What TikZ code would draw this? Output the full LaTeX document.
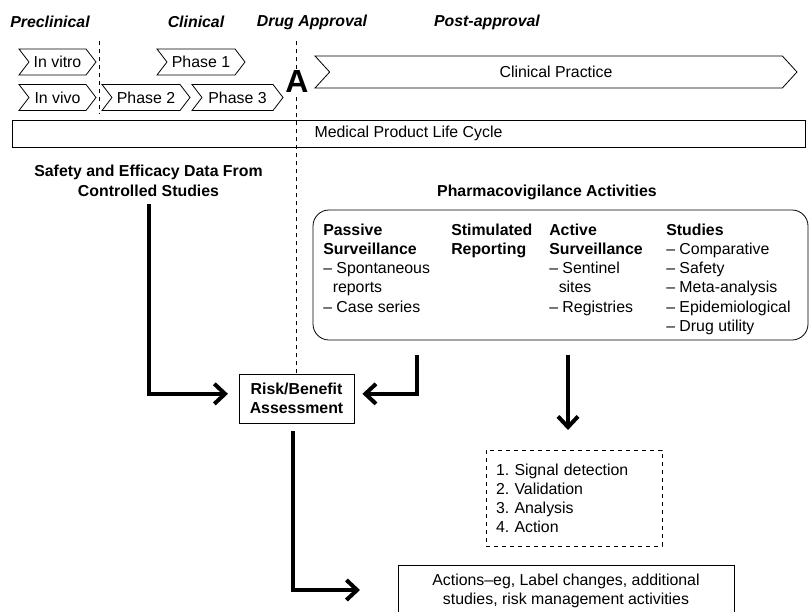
\documentclass[tikz,border=0pt]{standalone}
\usepackage{fontspec}
\setmainfont{Liberation Sans}
\usetikzlibrary{shapes.symbols,arrows.meta}
\frenchspacing

\begin{document}
\begin{tikzpicture}
[x=0.75pt, y=-0.75pt,
 every node/.style={font=\fontsize{11.9}{14.3}\selectfont, inner sep=0pt},
 head/.style={font=\fontsize{11.9}{14.3}\selectfont\bfseries\itshape},
 bold/.style={font=\fontsize{11.9}{14.3}\selectfont\bfseries},
 chev/.style={draw, line width=0.6pt, signal, signal from=west, signal to=east, signal pointer angle=105, minimum height=19.5pt},
 box/.style={draw, line width=0.6pt, align=center},
 col/.style={anchor=north west, align=left},
 flow/.style={line width=3pt, -{Straight Barb[length=8pt,width=15pt]}}]
\useasboundingbox (0,0) rectangle (810,611);

% Define the stage headers
\node[head] (pre) at (50,22) {Preclinical};
\node[head] (clin) at (196,22) {Clinical};
\node[head] (appr) at (312,22) {Drug Approval};
\node[head] (post) at (487,22) {Post-approval};

% Define the chevrons
\node[chev, minimum width=57.75pt] (invitro) at (57.5,62) {In vitro};
\node[chev, minimum width=57.75pt] (invivo) at (57.5,97.5) {In vivo};
\node[chev, minimum width=66pt] (ph1) at (201,62) {Phase 1};
\node[chev, minimum width=66pt] (ph2) at (146,97.5) {Phase 2};
\node[chev, minimum width=68.25pt] (ph3) at (237.5,97.5) {Phase 3};
\node[chev, signal pointer angle=95, minimum width=361.5pt, minimum height=24pt] (practice) at (556,72) {Clinical Practice};

\node[box, minimum width=594.75pt, minimum height=20.25pt] (cycle) at (408.5,133.5) {Medical Product Life Cycle};

% Define the data sources
\node[font=\fontsize{11.9}{15}\selectfont\bfseries, align=center] (safety) at (148.5,181) {Safety and Efficacy Data From\\Controlled Studies};
\node[bold] (pvtitle) at (547,192) {Pharmacovigilance Activities};
\node[draw, line width=0.6pt, rounded corners=12pt, minimum width=371.25pt, minimum height=97.5pt] (pv) at (560.5,275) {};
\node[col] (passive) at (323,224) {\textbf{Passive}\\\textbf{Surveillance}\\– Spontaneous\\\hspace{0.6em}reports\\– Case series};
\node[col] (stimulated) at (451,224) {\textbf{Stimulated}\\\textbf{Reporting}};
\node[col] (active) at (549,224) {\textbf{Active}\\\textbf{Surveillance}\\– Sentinel\\\hspace{0.6em}sites\\– Registries};
\node[col] (studies) at (666,224) {\textbf{Studies}\\– Comparative\\– Safety\\– Meta-analysis\\– Epidemiological\\– Drug utility};

% Define the assessment and outcomes
\node[box, bold, minimum width=86.25pt, minimum height=36.75pt] (risk) at (296.5,398.5) {Risk/Benefit\\Assessment};
\node[draw, dashed, line width=0.6pt, minimum height=72pt, text width=117pt, align=left, inner xsep=7.5pt] (steps) at (574,498) {1. Signal detection\\2. Validation\\3. Analysis\\4. Action};
\node[box, minimum width=252pt, minimum height=38.25pt] (actions) at (566,590.5) {Actions–eg, Label changes, additional\\studies, risk management activities};

\draw[dashed, line width=0.6pt] (99,41) -- (99,114);
\draw[dashed, line width=0.6pt] (296.5,41) -- (risk.north);
\node[font=\fontsize{24}{24}\selectfont\bfseries, fill=white, inner sep=1pt] (approval) at (297,81) {A};

\coordinate (pvleft) at (417,355);
\coordinate (pvdown) at (568,355);
\coordinate (stepsin) at (568,430);
\coordinate (riskout) at (293,431);
\coordinate (actin) at (360,590);

\draw[flow, shorten <=5pt, shorten >=8pt] (safety.south) |- ([yshift=3.5pt]risk.west);
\draw[flow, shorten >=6pt] (pvleft) |- ([yshift=3.5pt]risk.east);
\draw[flow] (pvdown) -- (stepsin);
\draw[flow] (riskout) |- (actin);
\end{tikzpicture}
\end{document}
